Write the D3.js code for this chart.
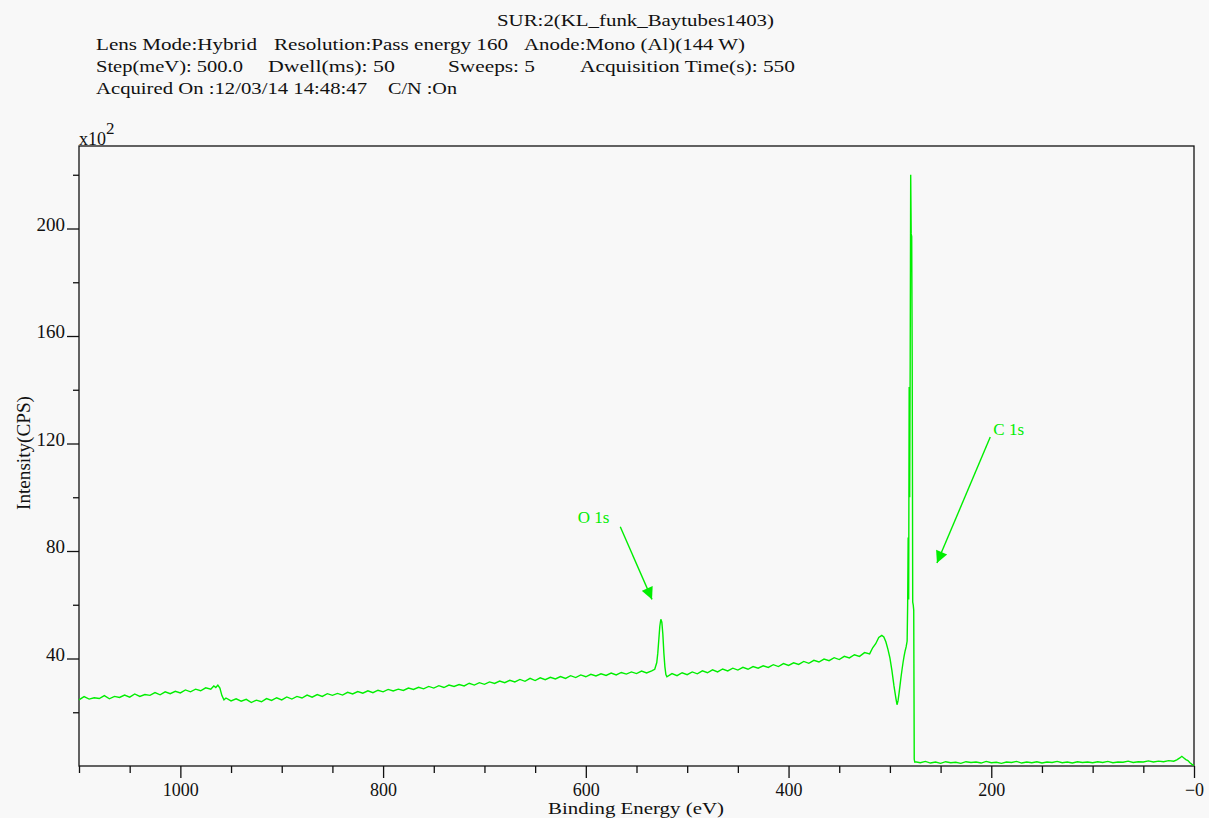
<!DOCTYPE html>
<html>
<head>
<meta charset="utf-8">
<script src="https://cdn.jsdelivr.net/npm/d3@7"></script>
<style>
  html, body { margin: 0; padding: 0; background: #f8f8f8; }
  svg { display: block; }
  text { font-family: "Liberation Serif", "DejaVu Serif", serif; fill: #111; }
</style>
</head>
<body>
<svg id="chart" width="1209" height="818"></svg>
<script>
// ---------------- data ----------------
const headerTitle = "SUR:2(KL_funk_Baytubes1403)";
const headerLines = [
  ["Lens Mode:Hybrid", "Resolution:Pass energy 160", "Anode:Mono (Al)(144 W)"],
  ["Step(meV): 500.0", "Dwell(ms): 50", "Sweeps: 5", "Acquisition Time(s): 550"],
  ["Acquired On :12/03/14 14:48:47", "C/N :On"]
];
const xLabel = "Binding Energy (eV)";
const yLabel = "Intensity(CPS)";
const yMultiplier = ["x10", "2"];

const xMajorTicks = [1000, 800, 600, 400, 200, 0];
const xTickLabels = ["1000", "800", "600", "400", "200", "\u22120"];
const xMinorTicks = [1100, 1050, 950, 900, 850, 750, 700, 650, 550, 500, 450, 350, 300, 250, 150, 100, 50];
const yMajorTicks = [40, 80, 120, 160, 200];
const yMinorTicks = [20, 60, 100, 140, 180, 220];

// binding energy (eV) and intensity (CPS x 10^2)
const energy = [
  1100,1095,1090,1085,1080,1075,1070,1065,1060,1055,1050,1045,1040,1035,1030,1025,1020,1015,1010,1005,
  1000,995,990,985,980,975,970,967,965,963,961,959,957,955,950,945,940,935,930,925,
  920,915,910,905,900,895,890,885,880,875,870,865,860,855,850,845,840,835,830,825,
  820,815,810,805,800,795,790,785,780,775,770,765,760,755,750,745,740,735,730,725,
  720,715,710,705,700,695,690,685,680,675,670,665,660,655,650,645,640,635,630,625,
  620,615,610,605,600,595,590,585,580,575,570,565,560,555,550,545,540,535,532,530,
  529,528,527,526,525,524,523,522,521,520,515,510,505,500,495,490,485,480,475,470,
  465,460,455,450,445,440,435,430,425,420,415,410,405,400,395,390,385,380,375,370,
  365,360,355,350,345,340,335,330,325,320,317,314,311,308,306,304,302,300,298,296,
  294,293,292,291,290,289,288,287,286,285,284,283,282.5,282,281.5,281,280.5,280,279.5,279,
  278.5,278,277.5,277,276.5,276,275.5,275,270,265,260,255,250,245,240,235,230,225,220,215,
  210,205,200,195,190,185,180,175,170,165,160,155,150,145,140,135,130,125,120,115,
  110,105,100,95,90,85,80,75,70,65,60,55,50,45,40,35,30,25,20,17,
  14,12,10,8,6,4,2,0
];
const intensity = [
  24.6,25.8,24.9,25.4,25.1,26.2,25.0,25.9,25.5,26.4,25.6,26.8,25.9,26.6,26.3,27.3,26.5,27.6,26.9,27.8,
  27.2,28.3,27.6,28.6,28.0,29.1,28.6,29.8,29.2,30.1,29.0,26.2,24.6,25.3,24.2,25.0,24.1,24.8,23.6,24.5,
  23.9,25.1,24.4,25.4,24.6,25.7,24.9,25.9,25.3,26.4,25.6,26.6,25.9,26.9,26.3,27.0,26.4,27.4,26.8,27.7,
  27.1,28.0,27.3,28.2,27.6,28.5,27.9,28.6,28.1,29.0,28.5,29.3,28.7,29.6,29.0,29.9,29.2,30.1,29.6,30.3,
  29.8,30.8,30.1,31.0,30.4,31.3,30.7,31.6,31.0,31.9,31.3,32.2,31.5,32.6,31.8,32.8,32.1,33.0,32.4,33.3,
  32.6,33.6,32.9,33.9,33.2,34.1,33.5,34.3,33.7,34.6,33.9,34.8,34.2,35.0,34.4,35.3,34.6,35.4,36.0,38.5,
  42.0,47.0,52.0,54.6,53.5,49.0,42.0,37.0,34.0,33.2,34.4,33.6,34.7,34.0,35.0,34.3,35.4,34.7,35.8,35.0,
  36.1,35.4,36.4,35.7,36.7,36.0,37.0,36.4,37.3,36.7,37.7,37.0,38.1,37.4,38.4,37.8,38.9,38.2,39.3,38.7,
  39.8,39.2,40.3,39.6,40.8,40.2,41.4,40.8,42.2,41.7,44.0,45.5,47.8,48.6,48.0,46.2,43.5,40.2,35.5,29.8,
  25.0,22.8,24.2,27.0,30.1,33.2,36.0,38.6,40.9,42.8,44.3,46.5,60,85,62,141,100,150,220,198,
  197,150,61,60,58,2.5,1.5,1.6,1.2,1.7,1.1,1.5,1.0,1.6,1.2,1.4,1.0,1.6,1.3,1.5,
  1.1,1.7,1.2,1.4,1.0,1.5,1.3,1.7,1.1,1.5,1.2,1.6,1.1,1.5,1.3,1.7,1.2,1.5,1.1,1.6,
  1.3,1.5,1.2,1.6,1.3,1.7,1.2,1.5,1.4,1.8,1.3,1.6,1.5,1.9,1.5,1.8,1.6,2.0,1.8,2.3,
  3.0,3.6,3.0,2.4,2.0,1.2,0.6,0.2
];

// peak annotations (label anchor and arrow, in data units)
const annLabels = ["O 1s", "C 1s"];
const annLabelAt = [[608, 90.5], [198, 123]];
const annArrowFrom = [[566, 89], [201, 122.4]];
const annArrowTo = [[534.7, 62], [253.6, 75.5]];

// ---------------- drawing ----------------
const svg = d3.select("#chart");
const green = "#00ee00";
const pLeft = 79, pRight = 1194, pTop = 146, pBottom = 766;

const x = d3.scaleLinear().domain([1100, 0]).range([pLeft, pRight]);
const y = d3.scaleLinear().domain([0, 230.7]).range([pBottom, pTop]);

// header
const hdr = svg.append("g").attr("font-size", 17);
hdr.append("text").attr("x", 497).attr("y", 26).attr("textLength", 277)
  .attr("lengthAdjust", "spacingAndGlyphs").text(headerTitle);
const hdrPos = [
  [[96, 161], [274, 234], [524, 221]],
  [[96, 147], [268, 127], [448, 87], [580, 215]],
  [[96, 271], [388, 69]]
];
const hdrY = [50, 72, 94];
headerLines.forEach((line, i) => {
  line.forEach((t, j) => {
    hdr.append("text").attr("x", hdrPos[i][j][0]).attr("y", hdrY[i])
      .attr("textLength", hdrPos[i][j][1]).attr("lengthAdjust", "spacingAndGlyphs").text(t);
  });
});

// frame
svg.append("rect").attr("x", pLeft).attr("y", pTop).attr("width", pRight - pLeft).attr("height", pBottom - pTop)
  .attr("fill", "none").attr("stroke", "#111").attr("stroke-width", 1.3);

// x axis
const xAxisG = svg.append("g").attr("transform", `translate(0,${pBottom})`);
xAxisG.call(d3.axisBottom(x).tickValues(xMajorTicks).tickSize(12).tickPadding(5)
  .tickFormat((d, i) => xTickLabels[i]));
xAxisG.append("g").call(d3.axisBottom(x).tickValues(xMinorTicks).tickSize(7).tickFormat(""));
xAxisG.selectAll(".domain").remove();
xAxisG.selectAll("line").attr("stroke", "#111").attr("stroke-width", 1.3);
xAxisG.selectAll("text").attr("font-size", 18).attr("fill", "#111")
  .attr("font-family", "Liberation Serif, serif");

// y axis
const yAxisG = svg.append("g").attr("transform", `translate(${pLeft},0)`);
yAxisG.call(d3.axisLeft(y).tickValues(yMajorTicks).tickSize(12).tickPadding(2).tickFormat(d3.format("d")));
yAxisG.append("g").call(d3.axisLeft(y).tickValues(yMinorTicks).tickSize(6).tickFormat(""));
yAxisG.selectAll(".domain").remove();
yAxisG.selectAll("line").attr("stroke", "#111").attr("stroke-width", 1.3);
yAxisG.selectAll("text").attr("font-size", 19).attr("fill", "#111").attr("dy", "0.1em")
  .attr("font-family", "Liberation Serif, serif");

// multiplier
const mult = svg.append("text").attr("x", pLeft).attr("y", 145).attr("font-size", 18);
mult.append("tspan").text(yMultiplier[0]);
mult.append("tspan").attr("font-size", 17).attr("dy", -11).text(yMultiplier[1]);

// axis labels
svg.append("text").attr("x", 636).attr("y", 814).attr("text-anchor", "middle")
  .attr("font-size", 17).attr("textLength", 176).attr("lengthAdjust", "spacingAndGlyphs").text(xLabel);
svg.append("text").attr("transform", "translate(30,453) rotate(-90)").attr("text-anchor", "middle")
  .attr("font-size", 19).attr("textLength", 114).attr("lengthAdjust", "spacingAndGlyphs").text(yLabel);

// spectrum
const pts = energy.map((e, i) => [e, intensity[i]]);
svg.append("path").datum(pts)
  .attr("fill", "none").attr("stroke", green).attr("stroke-width", 1.4)
  .attr("stroke-linejoin", "miter")
  .attr("d", d3.line().x(d => x(d[0])).y(d => y(d[1])));

// annotations
svg.append("defs").append("marker").attr("id", "ah")
  .attr("viewBox", "0 0 10 10").attr("refX", 10).attr("refY", 5)
  .attr("markerWidth", 14).attr("markerHeight", 12).attr("markerUnits", "userSpaceOnUse")
  .attr("orient", "auto")
  .append("path").attr("d", "M0,0 L10,5 L0,10 Z").attr("fill", green);

annLabels.forEach((lab, i) => {
  svg.append("text").attr("x", x(annLabelAt[i][0])).attr("y", y(annLabelAt[i][1]))
    .attr("font-size", 17).style("fill", green).text(lab);
  svg.append("line")
    .attr("x1", x(annArrowFrom[i][0])).attr("y1", y(annArrowFrom[i][1]))
    .attr("x2", x(annArrowTo[i][0])).attr("y2", y(annArrowTo[i][1]))
    .attr("stroke", green).attr("stroke-width", 1.4).attr("marker-end", "url(#ah)");
});
</script>
</body>
</html>
